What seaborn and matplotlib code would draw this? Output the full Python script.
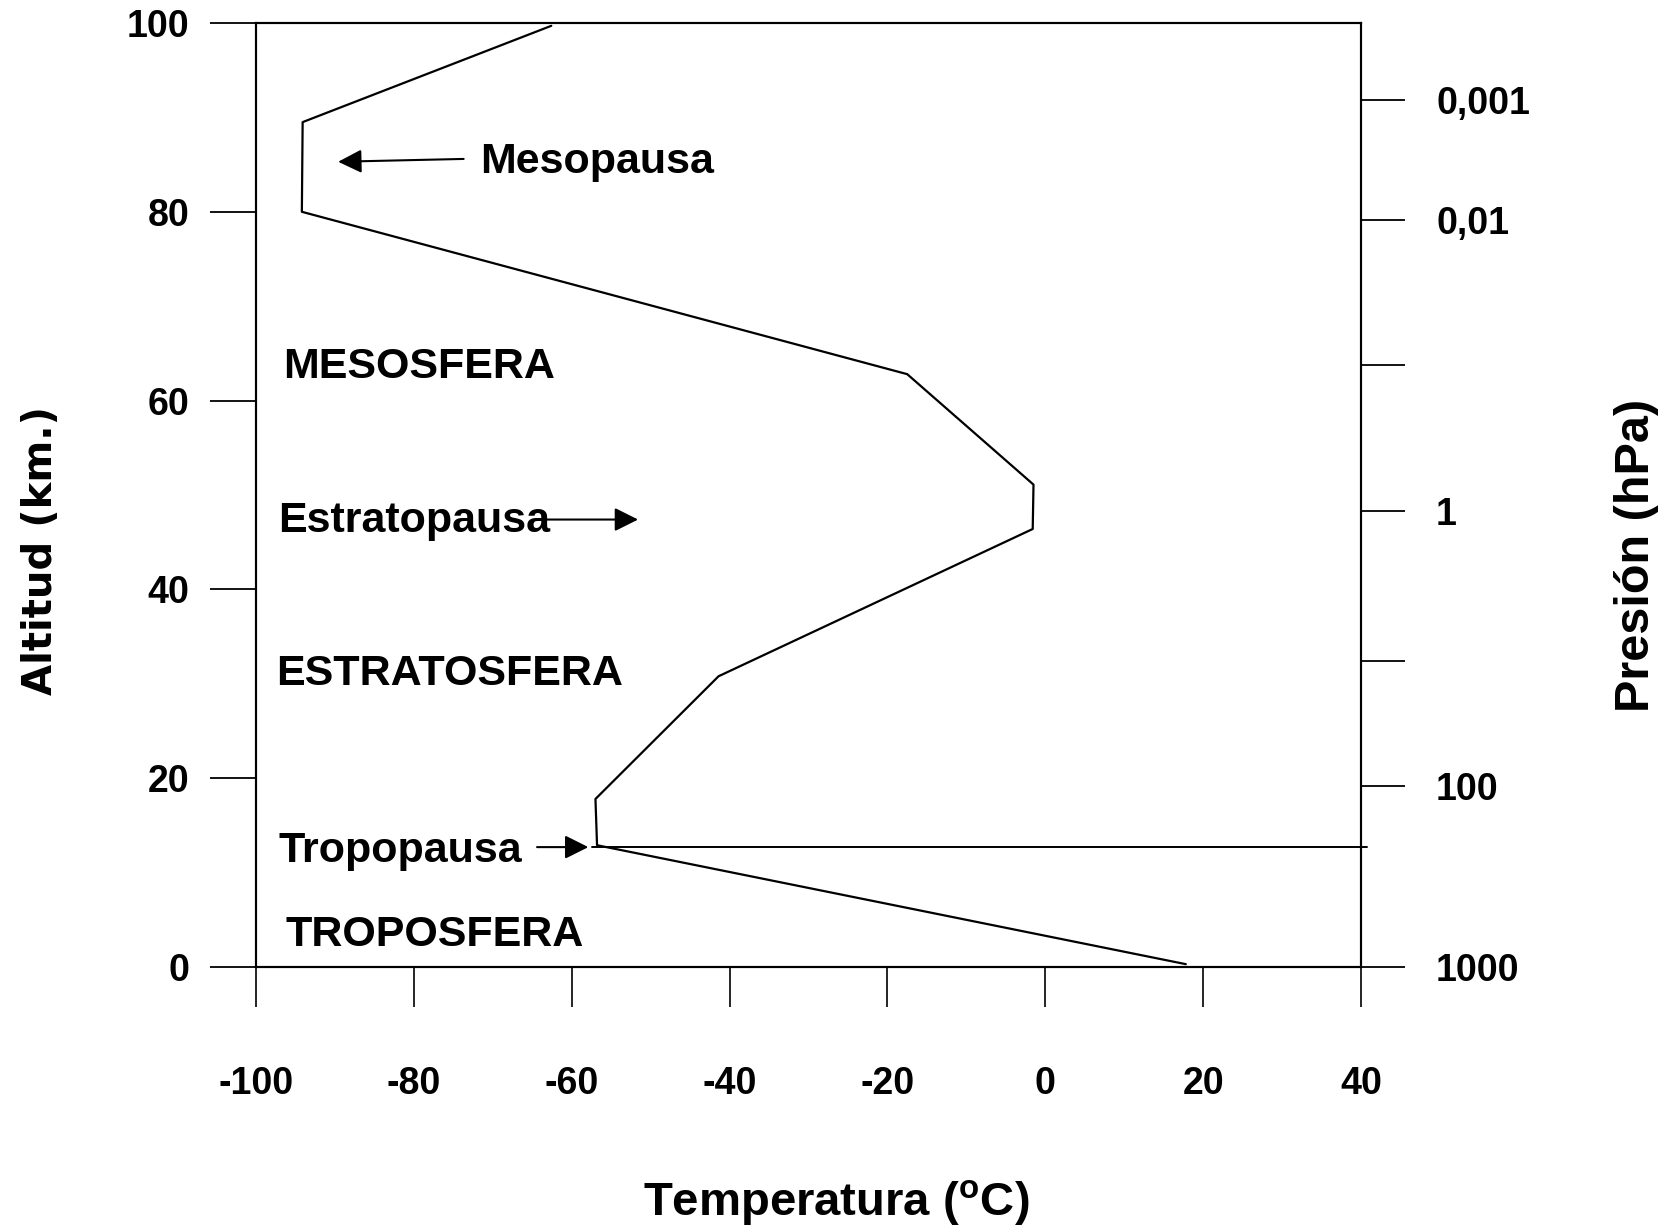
import matplotlib
matplotlib.use('Agg')
import matplotlib.pyplot as plt
import seaborn as sns
import pandas as pd

# ---- data ----
temperatura = [17.8, -56.8, -57.0, -41.4, -1.6, -1.5, -17.5, -94.2, -94.1, -62.6]
altitud = [0.3, 12.9, 17.8, 30.8, 46.4, 51.1, 62.8, 80.0, 89.5, 99.7]

x_ticks = [-100, -80, -60, -40, -20, 0, 20, 40]
x_labels = ['-100', '-80', '-60', '-40', '-20', '0', '20', '40']
alt_ticks = [0, 20, 40, 60, 80, 100]
alt_labels = ['0', '20', '40', '60', '80', '100']
presion_alt = [91.8, 79.1, 63.8, 48.3, 32.4, 19.2, 0.0]
presion_labels = ['0,001', '0,01', '', '1', '', '100', '1000']

tropopausa_alt = 12.7
tropopausa_temp = [-57.4, 40.7]

regiones = ['MESOSFERA', 'ESTRATOSFERA', 'TROPOSFERA']
regiones_temp = [-96.6, -97.4, -96.3]
regiones_alt = [62.4, 29.9, 2.26]

capas = ['Mesopausa', 'Estratopausa', 'Tropopausa']
capas_temp = [-71.6, -97.2, -97.1]
capas_alt = [84.1, 46.1, 11.15]
flecha_desde_temp = [-73.7, -63.4, -64.4]
flecha_desde_alt = [85.6, 47.4, 12.7]
flecha_hasta_temp = [-89.6, -51.6, -57.9]
flecha_hasta_alt = [85.3, 47.4, 12.7]

# ---- style ----
sns.set_style('ticks')
plt.rcParams['font.family'] = ['Liberation Sans', 'DejaVu Sans']
plt.rcParams['font.weight'] = 'bold'
plt.rcParams['mathtext.fontset'] = 'custom'
plt.rcParams['mathtext.rm'] = 'Liberation Sans:bold'
plt.rcParams['mathtext.bf'] = 'Liberation Sans:bold'
plt.rcParams['axes.edgecolor'] = 'black'
plt.rcParams['axes.labelcolor'] = 'black'
plt.rcParams['text.color'] = 'black'
plt.rcParams['xtick.color'] = 'black'
plt.rcParams['ytick.color'] = 'black'
plt.rcParams['xtick.labelcolor'] = 'black'
plt.rcParams['ytick.labelcolor'] = 'black'

fig = plt.figure(figsize=(16.77, 12.27), dpi=100)
ax = fig.add_axes([0.1527, 0.2119, 0.6589, 0.76936])

df = pd.DataFrame({'Temperatura': temperatura, 'Altitud': altitud})
sns.lineplot(data=df, x='Temperatura', y='Altitud', sort=False, estimator=None,
             color='black', linewidth=1.6, ax=ax)

# tropopause line
ax.plot(tropopausa_temp, [tropopausa_alt, tropopausa_alt], color='black',
        linewidth=1.4, clip_on=False)

ax.set_xlim(-100, 40)
ax.set_ylim(0, 100)
ax.set_xticks(x_ticks)
ax.set_xticklabels(x_labels)
ax.set_yticks(alt_ticks)
ax.set_yticklabels(alt_labels)
for s in ax.spines.values():
    s.set_visible(True)
    s.set_linewidth(1.5)
    s.set_color('black')

ax.tick_params(axis='y', direction='out', length=33, width=1.3, pad=15,
               labelsize=27, colors='black')
ax.tick_params(axis='x', direction='out', length=29, width=1.2, pad=42,
               labelsize=27, colors='black')

ax2 = ax.twinx()
ax2.set_ylim(0, 100)
ax2.set_yticks(presion_alt)
ax2.set_yticklabels(presion_labels)
ax2.tick_params(axis='y', direction='out', length=32, width=1.3, pad=22,
                labelsize=27, colors='black')
for s in ax2.spines.values():
    s.set_linewidth(1.5)
    s.set_color('black')

# axis labels
ax.set_xlabel('Temperatura ($^{\\mathbf{o}}$C)', fontsize=34, fontweight='bold', color='black')
ax.xaxis.set_label_coords(0.5253, -0.2635)
ax.xaxis.label.set_va('baseline')

ax.set_ylabel('Altitud (km.)', fontsize=29, fontweight='bold', family='DejaVu Sans', color='black')
ax.yaxis.set_label_coords(-0.1946, 0.441)
ax.yaxis.label.set_va('center')

ax2.set_ylabel('Presión (hPa)', fontsize=35, fontweight='bold', color='black')
ax2.yaxis.set_label_coords(1.2489, 0.436)
ax2.yaxis.label.set_va('center')

# region labels
for name, t, a in zip(regiones, regiones_temp, regiones_alt):
    ax.text(t, a, name, fontsize=31, fontweight='bold', ha='left', va='baseline', color='black')

for name, t, a in zip(capas, capas_temp, capas_alt):
    ax.text(t, a, name, fontsize=31, fontweight='bold', ha='left', va='baseline', color='black')

for t0, a0, t1, a1 in zip(flecha_desde_temp, flecha_desde_alt, flecha_hasta_temp, flecha_hasta_alt):
    ax.annotate('', xy=(t1, a1), xytext=(t0, a0),
                arrowprops=dict(arrowstyle='-|>,head_length=0.72,head_width=0.36',
                                mutation_scale=20, color='black', lw=1.5,
                                shrinkA=0, shrinkB=0))

fig.savefig('out.png', dpi=100, facecolor='white')
